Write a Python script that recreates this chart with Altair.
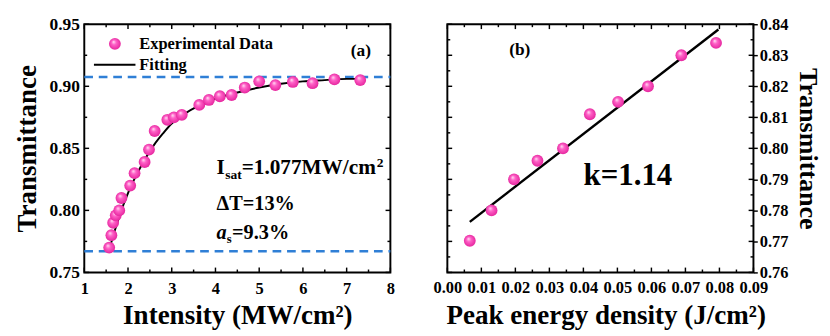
import altair as alt
import pandas as pd

FONT = "Liberation Serif"

# ---------------- panel (a): transmittance vs intensity ----------------
int_x = [1.57, 1.62, 1.66, 1.72, 1.80, 1.85, 2.05, 2.15, 2.38, 2.48, 2.61, 2.90, 3.05,
         3.23, 3.63, 3.85, 4.10, 4.37, 4.67, 5.00, 5.37, 5.77, 6.22, 6.72, 7.31]
int_t = [0.770, 0.780, 0.790, 0.796, 0.800, 0.810, 0.820, 0.830, 0.839, 0.849, 0.864, 0.873, 0.875,
         0.877, 0.885, 0.889, 0.892, 0.893, 0.899, 0.904, 0.901, 0.9035, 0.9025, 0.9056, 0.905]
fit_x = [1.60, 1.70, 1.80, 1.90, 2.00, 2.20, 2.40, 2.60, 2.80, 3.00, 3.30, 3.60, 4.00,
         4.50, 5.00, 5.50, 6.00, 6.50, 7.00, 7.30]
fit_t = [0.772, 0.784, 0.795, 0.805, 0.814, 0.829, 0.842, 0.853, 0.862, 0.870, 0.878, 0.884, 0.890,
         0.895, 0.899, 0.902, 0.904, 0.905, 0.906, 0.906]
sat_levels = [0.9075, 0.767]
a_xmajor = [1, 2, 3, 4, 5, 6, 7, 8]
a_xminor = [1.5, 2.5, 3.5, 4.5, 5.5, 6.5, 7.5]
a_ymajor = [0.75, 0.80, 0.85, 0.90, 0.95]
a_yminor = [0.775, 0.825, 0.875, 0.925]

# ---------------- panel (b): transmittance vs peak energy density ----------------
ped_x = [0.0066, 0.0130, 0.0196, 0.0265, 0.0340, 0.0419, 0.0502, 0.0590, 0.0688, 0.0790]
ped_t = [0.7702, 0.7800, 0.7900, 0.7960, 0.8000, 0.8110, 0.8150, 0.8200, 0.8300, 0.8340]
lin_x = [0.0066, 0.0797]
lin_t = [0.7763, 0.8383]
b_xmajor = [0.00, 0.01, 0.02, 0.03, 0.04, 0.05, 0.06, 0.07, 0.08, 0.09]
b_xminor = [0.005, 0.015, 0.025, 0.035, 0.045, 0.055, 0.065, 0.075, 0.085]
b_ymajor = [0.76, 0.77, 0.78, 0.79, 0.80, 0.81, 0.82, 0.83, 0.84]
b_yminor = [0.765, 0.775, 0.785, 0.795, 0.805, 0.815, 0.825, 0.835]

legend_labels = ["Experimental Data", "Fitting"]
y_title = "Transmittance"
a_x_title = "Intensity (MW/cm²)"
b_x_title = "Peak energy density (J/cm²)"

W, H = 317, 257

sphere = alt.RadialGradient(
    gradient="radial",
    stops=[alt.GradientStop(offset=0, color="#ffe8f6"),
           alt.GradientStop(offset=0.35, color="#ff62c8"),
           alt.GradientStop(offset=1, color="#e3209a")],
    x1=0.38, y1=0.32, r1=0.0, x2=0.5, y2=0.5, r2=0.55)


def txt(s, x, y, size, align="left", baseline="alphabetic", style="normal"):
    return alt.Chart(pd.DataFrame({"t": [s]})).mark_text(
        font=FONT, fontWeight="bold", fontSize=size, fontStyle=style,
        align=align, baseline=baseline, color="black"
    ).encode(text="t:N", x=alt.value(x), y=alt.value(y))


def tick_layers(xs_major, xs_minor, ys_major, ys_minor, X, Y):
    layers = []
    for vals, L in ((xs_major, 5), (xs_minor, 3)):
        d = alt.Chart(pd.DataFrame({"x": vals}))
        layers.append(d.mark_rule(color="black", strokeWidth=1.5).encode(
            x=X, y=alt.value(H), y2=alt.value(H - L)))
        layers.append(d.mark_rule(color="black", strokeWidth=1.5).encode(
            x=X, y=alt.value(0), y2=alt.value(L)))
    for vals, L in ((ys_major, 5), (ys_minor, 3)):
        d = alt.Chart(pd.DataFrame({"t": vals}))
        layers.append(d.mark_rule(color="black", strokeWidth=1.5).encode(
            y=Y, x=alt.value(0), x2=alt.value(L)))
        layers.append(d.mark_rule(color="black", strokeWidth=1.5).encode(
            y=Y, x=alt.value(W - L), x2=alt.value(W)))
    return layers


# ---------- panel (a) ----------
AX = alt.X("x:Q", scale=alt.Scale(domain=[1, 8], nice=False, zero=False), axis=alt.Axis(
    values=a_xmajor, format="d", title=a_x_title, grid=False, domain=False, ticks=False,
    labelFont=FONT, labelFontWeight="bold", labelFontSize=17, labelColor="black",
    labelPadding=9, labelFlush=False, labelOverlap=False,
    titleFont=FONT, titleFontWeight="bold", titleFontSize=28, titleColor="black",
    titleBaseline="alphabetic", titleY=53))
AY = alt.Y("t:Q", scale=alt.Scale(domain=[0.75, 0.95], nice=False, zero=False), axis=alt.Axis(
    values=a_ymajor, format=".2f", title=y_title, grid=False, domain=False, ticks=False,
    labelFont=FONT, labelFontWeight="bold", labelFontSize=18, labelColor="black",
    labelPadding=5, labelFlush=False, labelOverlap=False,
    titleFont=FONT, titleFontWeight="bold", titleFontSize=28, titleColor="black",
    titleAngle=270, titleBaseline="alphabetic", titleX=-51))

a_pts = alt.Chart(pd.DataFrame({"x": int_x, "t": int_t})).mark_circle(
    fill=sphere, size=150, opacity=1).encode(x=AX, y=AY)

a_fit = alt.Chart(pd.DataFrame({"x": fit_x, "t": fit_t})).mark_line(
    color="black", strokeWidth=2, interpolate="monotone").encode(x=AX, y=AY)

a_dash = alt.Chart(pd.DataFrame({"t": sat_levels})).mark_rule(
    color="#2f7fd6", strokeWidth=2.5, strokeDash=[9, 6]
).encode(y=AY, x=alt.value(0), x2=alt.value(W))

a_leg_pt = alt.Chart(pd.DataFrame({"t": [legend_labels[0]]})).mark_circle(
    fill=sphere, size=150, opacity=1).encode(x=alt.value(31.7), y=alt.value(20.3))
a_leg_line = alt.Chart(pd.DataFrame({"t": [legend_labels[1]]})).mark_rule(
    color="black", strokeWidth=2).encode(x=alt.value(10), x2=alt.value(53), y=alt.value(42))

a_texts = [
    txt("(a)", 286.5, 28, 18, align="center", baseline="middle"),
    txt(legend_labels[0], 57, 20.3, 17, baseline="middle"),
    txt(legend_labels[1], 57, 42, 17, baseline="middle"),
    txt("I", 137, 155, 22),
    txt("sat", 146, 160.5, 14),
    txt("=1.077MW/cm", 163, 155, 22),
    txt("2", 303, 148, 14),
    txt("ΔT=13%", 137, 192, 21),
    txt("a", 137, 222, 21, style="italic"),
    txt("s", 147.5, 227, 13),
    txt("=9.3%", 153, 222, 21),
]

panel_a = alt.layer(
    a_dash, *tick_layers(a_xmajor, a_xminor, a_ymajor, a_yminor, AX, AY),
    a_fit, a_pts, a_leg_line, a_leg_pt, *a_texts
).properties(width=W, height=H)

# ---------- panel (b) ----------
BX = alt.X("x:Q", scale=alt.Scale(domain=[0, 0.09], nice=False, zero=False), axis=alt.Axis(
    values=b_xmajor, format=".2f", title=b_x_title, grid=False, domain=False, ticks=False,
    labelFont=FONT, labelFontWeight="bold", labelFontSize=17, labelColor="black",
    labelPadding=8, labelFlush=False, labelOverlap=False,
    titleFont=FONT, titleFontWeight="bold", titleFontSize=28, titleColor="black",
    titleBaseline="alphabetic", titleY=53, titleX=164))
BY = alt.Y("t:Q", scale=alt.Scale(domain=[0.76, 0.84], nice=False, zero=False), axis=alt.Axis(
    orient="right", values=b_ymajor, format=".2f", title=y_title, grid=False, domain=False,
    ticks=True, tickSize=4, tickWidth=1.5, tickColor="black",
    labelFont=FONT, labelFontWeight="bold", labelFontSize=17, labelColor="black",
    labelPadding=2, labelFlush=False, labelOverlap=False,
    titleFont=FONT, titleFontWeight="bold", titleFontSize=27, titleColor="black",
    titleAngle=90, titleBaseline="alphabetic", titleX=48))

b_pts = alt.Chart(pd.DataFrame({"x": ped_x, "t": ped_t})).mark_circle(
    fill=sphere, size=150, opacity=1).encode(x=BX, y=BY)

b_line = alt.Chart(pd.DataFrame({"x": lin_x, "t": lin_t})).mark_line(
    color="black", strokeWidth=2.5).encode(x=BX, y=BY)

b_texts = [
    txt("(b)", 75, 27, 18, align="center", baseline="middle"),
    txt("k=1.14", 141, 166, 32),
]

panel_b = alt.layer(
    *tick_layers(b_xmajor, b_xminor, b_ymajor, b_yminor, BX, BY),
    b_line, b_pts, *b_texts
).properties(width=W, height=H)

chart = alt.hconcat(panel_a, panel_b, spacing=37).properties(
    padding={"left": 5, "top": 1, "right": 0, "bottom": 0},
    background="white",
).configure_view(stroke="black", strokeWidth=2)

chart.save("out.html", embed_options={"renderer": "svg", "actions": False})
